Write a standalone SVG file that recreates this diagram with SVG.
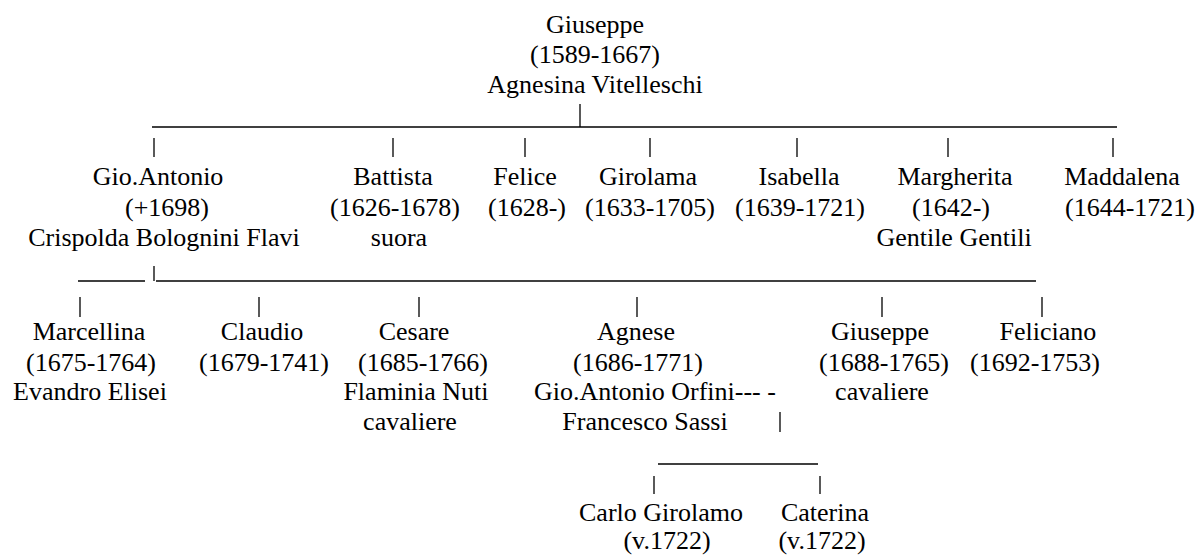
<svg xmlns="http://www.w3.org/2000/svg" width="1200" height="556" viewBox="0 0 1200 556">
<style>
text{font-family:"Liberation Serif","Times New Roman",serif;font-size:26px;fill:#000;text-anchor:middle}
.st{text-anchor:start}
line{stroke:#000;stroke-width:1.3}
</style>
<rect width="1200" height="556" fill="#fff"/>
<g id="connectors">
<line x1="152" y1="127" x2="1117" y2="127"/>
<line x1="580" y1="104" x2="580" y2="127"/>
<line x1="154" y1="138" x2="154" y2="157"/>
<line x1="393" y1="138" x2="393" y2="157"/>
<line x1="525" y1="138" x2="525" y2="157"/>
<line x1="650" y1="138" x2="650" y2="157"/>
<line x1="797" y1="138" x2="797" y2="157"/>
<line x1="948" y1="138" x2="948" y2="157"/>
<line x1="1113" y1="138" x2="1113" y2="157"/>
<line x1="78" y1="281" x2="145" y2="281"/>
<line x1="156" y1="281" x2="1036" y2="281"/>
<line x1="154" y1="266" x2="154" y2="281"/>
<line x1="80" y1="297" x2="80" y2="317"/>
<line x1="259" y1="297" x2="259" y2="317"/>
<line x1="419" y1="297" x2="419" y2="317"/>
<line x1="637" y1="297" x2="637" y2="317"/>
<line x1="882" y1="297" x2="882" y2="317"/>
<line x1="1042" y1="297" x2="1042" y2="317"/>
<line x1="780" y1="412" x2="780" y2="432"/>
<line x1="658" y1="464" x2="818" y2="464"/>
<line x1="654" y1="476" x2="654" y2="494"/>
<line x1="820" y1="476" x2="820" y2="494"/>
</g>
<g id="giuseppe">
<text x="595" y="33">Giuseppe</text>
<text x="595" y="63">(1589-1667)</text>
<text x="595" y="93">Agnesina Vitelleschi</text>
</g>
<g id="gio-antonio">
<text x="158" y="185">Gio.Antonio</text>
<text x="167" y="216">(+1698)</text>
<text x="164" y="246">Crispolda Bolognini Flavi</text>
</g>
<g id="battista">
<text x="393" y="185">Battista</text>
<text x="395" y="216">(1626-1678)</text>
<text x="399" y="246">suora</text>
</g>
<g id="felice">
<text x="525" y="185">Felice</text>
<text x="527" y="216">(1628-)</text>
</g>
<g id="girolama">
<text x="648" y="185">Girolama</text>
<text x="650" y="216">(1633-1705)</text>
</g>
<g id="isabella">
<text x="799" y="185">Isabella</text>
<text x="800" y="216">(1639-1721)</text>
</g>
<g id="margherita">
<text x="955" y="185">Margherita</text>
<text x="951" y="216">(1642-)</text>
<text x="954" y="246">Gentile Gentili</text>
</g>
<g id="maddalena">
<text x="1122" y="185">Maddalena</text>
<text x="1130" y="216">(1644-1721)</text>
</g>
<g id="marcellina">
<text x="89" y="340">Marcellina</text>
<text x="91" y="371">(1675-1764)</text>
<text x="90" y="400">Evandro Elisei</text>
</g>
<g id="claudio">
<text x="262" y="340">Claudio</text>
<text x="264" y="371">(1679-1741)</text>
</g>
<g id="cesare">
<text x="414" y="340">Cesare</text>
<text x="423" y="371">(1685-1766)</text>
<text x="416" y="400">Flaminia Nuti</text>
<text x="410" y="430">cavaliere</text>
</g>
<g id="agnese">
<text x="636" y="340">Agnese</text>
<text x="638" y="371">(1686-1771)</text>
<text class="st" x="534" y="400">Gio.Antonio Orfini--- -</text>
<text x="645" y="430">Francesco Sassi</text>
</g>
<g id="giuseppe-2">
<text x="880" y="340">Giuseppe</text>
<text x="884" y="371">(1688-1765)</text>
<text x="882" y="400">cavaliere</text>
</g>
<g id="feliciano">
<text x="1048" y="340">Feliciano</text>
<text x="1035" y="371">(1692-1753)</text>
</g>
<g id="carlo-girolamo">
<text x="661" y="521">Carlo Girolamo</text>
<text x="667" y="549">(v.1722)</text>
</g>
<g id="caterina">
<text x="825" y="521">Caterina</text>
<text x="822" y="549">(v.1722)</text>
</g>
</svg>
